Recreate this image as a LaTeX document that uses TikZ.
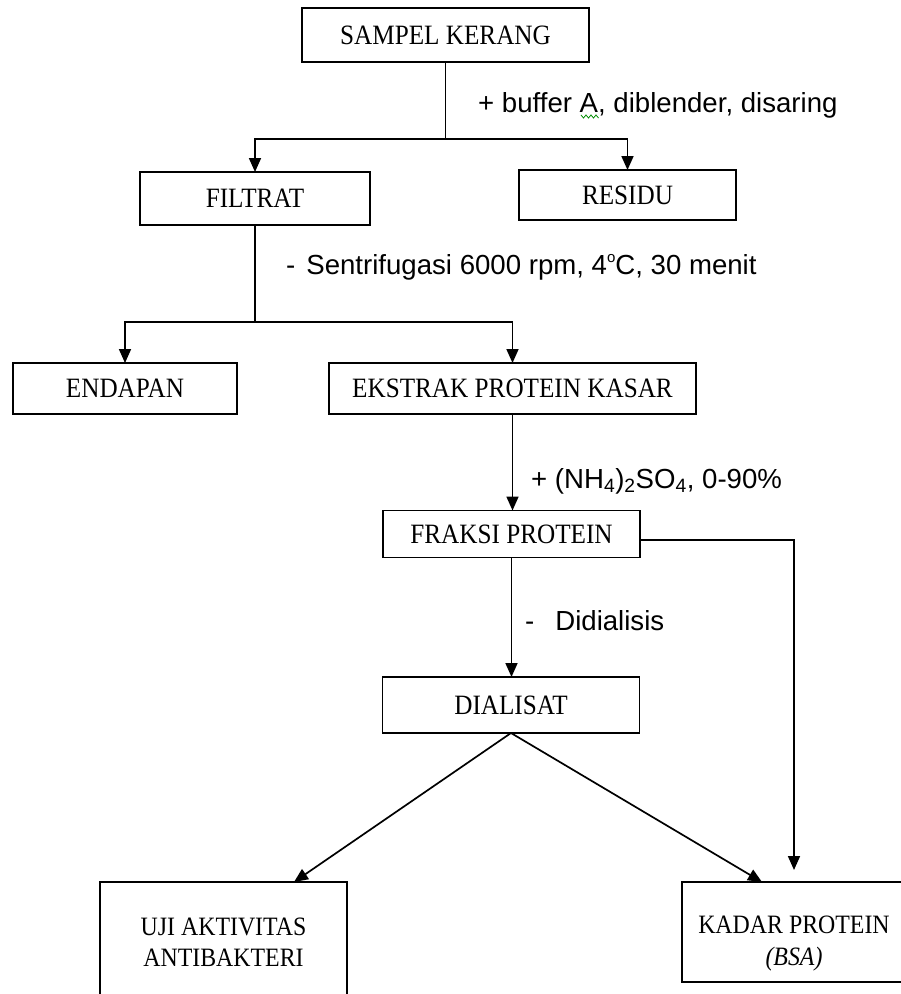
\documentclass[tikz,border=0pt]{standalone}
\usepackage{fontspec}
\setmainfont{Liberation Serif}
\newfontfamily\boxfont[FakeStretch=0.9]{Liberation Serif}
\newfontfamily\labfont{Liberation Sans}
\usetikzlibrary{arrows.meta,calc}
\begin{document}
\begin{tikzpicture}[x=1pt,y=-1pt,
  proc/.style={draw, line width=1.8pt, inner sep=0pt, outer sep=0pt,
    font=\boxfont\fontsize{28}{32}\selectfont},
  procsmall/.style={draw, line width=1.8pt, inner sep=0pt, outer sep=0pt,
    align=center, font=\boxfont\fontsize{26.5}{31}\selectfont},
  boxtext/.style={inner sep=0pt, align=center, font=\boxfont\fontsize{26.5}{32}\selectfont},
  conn/.style={line width=1.7pt},
  arr/.style={conn, -{Triangle[length=14pt,width=12pt]}},
  note/.style={font=\labfont\fontsize{27.6}{32}\selectfont, anchor=base west, inner sep=0pt}
]
\useasboundingbox (0,0) rectangle (901,994);
\fill[white] (0,0) rectangle (901,994);

% boxes
\node[proc, minimum width=287pt, minimum height=54pt] (sampel) at (445.5,35) {SAMPEL KERANG};
\node[proc, minimum width=230pt, minimum height=53pt] (filtrat) at (255,198.5) {FILTRAT};
\node[proc, minimum width=217pt, minimum height=50pt] (residu) at (627.5,195) {RESIDU};
\node[proc, minimum width=224pt, minimum height=51pt] (endapan) at (125,388.5) {ENDAPAN};
\node[proc, minimum width=367pt, minimum height=51pt] (ekstrak) at (512.5,388.5) {EKSTRAK PROTEIN KASAR};
\node[proc, minimum width=257pt, minimum height=47pt] (fraksi) at (511.5,534) {FRAKSI PROTEIN};
\node[proc, minimum width=257pt, minimum height=56pt] (dialisat) at (511,705) {DIALISAT};
\node[procsmall, minimum width=247pt, minimum height=121pt] (uji) at (223.5,942.5) {UJI AKTIVITAS\\ANTIBAKTERI};
\node[procsmall, minimum width=224pt, minimum height=100pt] (kadar) at (794,932) {};
\node[boxtext] (kadartext) at (794,944) {KADAR PROTEIN\\\textit{(BSA)}};

% connectors
\path (sampel.south) ++(0,77) coordinate (j1);
\draw[conn] (sampel.south) -- (j1);
\draw[arr] (j1) -| (filtrat.north);
\draw[arr] (j1) -| (residu.north);

\path (filtrat.south) ++(0,97) coordinate (j2);
\draw[conn] (filtrat.south) -- (j2);
\draw[arr] (j2) -| (endapan.north);
\draw[arr] (j2) -| (ekstrak.north);

\draw[arr] (ekstrak.south) -- (ekstrak.south |- fraksi.north);
\draw[arr] (fraksi.south) -- (fraksi.south |- dialisat.north);
\draw[arr, shorten >=12pt] ([yshift=-6pt]fraksi.east) -| (kadar.north);

\draw[arr] (dialisat.south) -- ([xshift=-53pt]uji.north east);
\draw[arr] (dialisat.south) -- ([xshift=80pt]kadar.north west);

% labels
\node[note] (n1) at (478,112) {+ buffer A, diblender, disaring};
\draw[green!55!black, line width=0.8pt] (581,115) -- ++(2.5,3) -- ++(2.5,-3) -- ++(2.5,3) -- ++(2.5,-3) -- ++(2.5,3) -- ++(2.5,-3) -- ++(2.5,3);
\node[note] (n2) at (286,274) {-\hspace{11pt}Sentrifugasi 6000 rpm, 4\raisebox{0.42em}{\fontsize{15}{15}\selectfont o}C, 30 menit};
\node[note] (n3) at (531,488) {+ (NH\textsubscript{4})\textsubscript{2}SO\textsubscript{4}, 0-90\%};
\node[note] (n4) at (525,630) {-\hspace{21pt}Didialisis};
\end{tikzpicture}
\end{document}
